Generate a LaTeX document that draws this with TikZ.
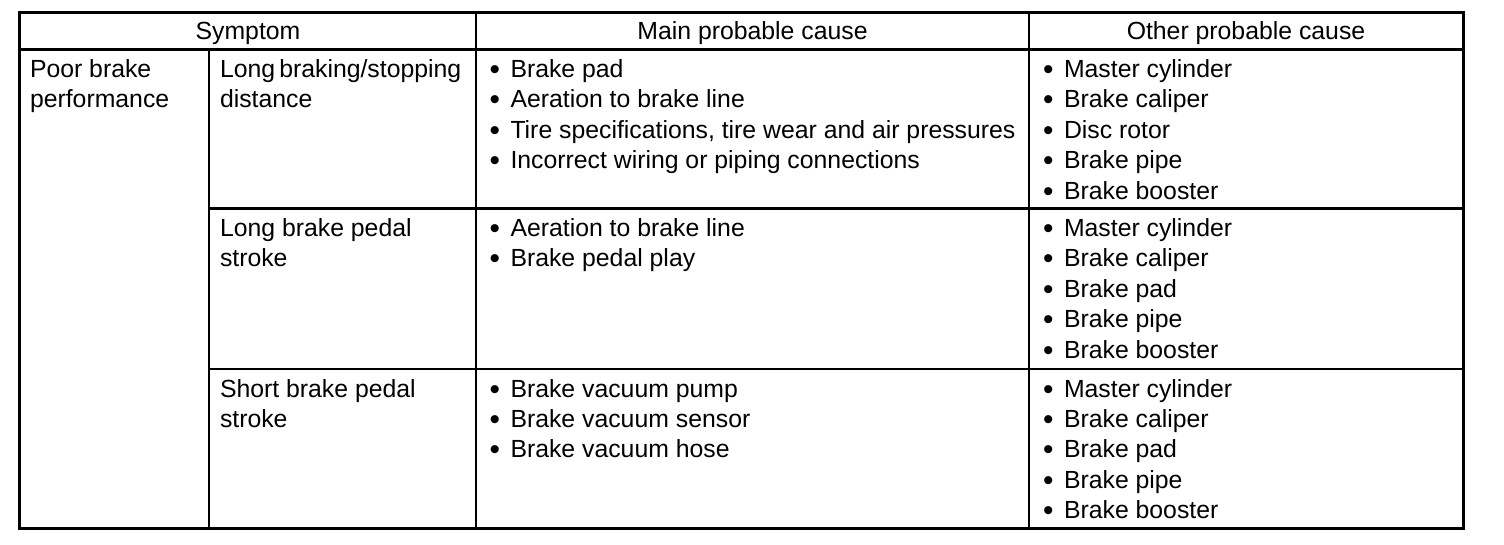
\documentclass[tikz,border=0pt]{standalone}
\usepackage{fontspec}
\usepackage{graphicx}
\setmainfont{Liberation Sans}
\newcommand\bl{\makebox[21pt][l]{\raisebox{-2pt}{\scalebox{1.2}{•}}}}
\newcommand\ls[1]{\begin{tabular}[t]{@{}l@{}}#1\end{tabular}}
\tikzset{
  grid/.style={line width=2.2pt, line cap=rect},
  cell/.style={inner sep=0pt, outer sep=0pt, anchor=base west, font=\fontsize{24.8}{30.4}\selectfont},
  head/.style={cell, anchor=base}
}
\begin{document}
\begin{tikzpicture}[x=1pt,y=-1pt]
\useasboundingbox (0,0) rectangle (1504,544);
% table frame
\coordinate (tl) at (19.5,12.5);
\coordinate (br) at (1463.5,528.5);
\draw[grid] (tl) rectangle (br);
\draw[grid] (19.5,49.5) -- (1463.5,49.5);
\draw[grid] (209,49.5) -- (209,528.5);
\draw[grid] (476,12.5) -- (476,528.5);
\draw[grid] (1029,12.5) -- (1029,528.5);
\draw[grid] (209,208.5) -- (1463.5,208.5);
\draw[grid] (209,369) -- (1463.5,369);
% header
\node[head] (hsym) at (248,39.5) {Symptom};
\node[head] (hmain) at (752.5,39.5) {Main probable cause};
\node[head] (hother) at (1246,39.5) {Other probable cause};
% first column
\node[cell] (poor) at (30,77.5) {\ls{Poor brake\\performance}};
% row 1
\node[cell] (s1) at (220,77.5) {\ls{Long\,braking/stopping\\distance}};
\node[cell] (m1) at (489.5,77.5) {\ls{\bl Brake pad\\\bl Aeration to brake line\\\bl Tire specifications, tire wear and air pressures\\\bl Incorrect wiring or piping connections}};
\node[cell] (o1) at (1043,77.5) {\ls{\bl Master cylinder\\\bl Brake caliper\\\bl Disc rotor\\\bl Brake pipe\\\bl Brake booster}};
% row 2
\node[cell] (s2) at (220,236.5) {\ls{Long brake pedal\\stroke}};
\node[cell] (m2) at (489.5,236.5) {\ls{\bl Aeration to brake line\\\bl Brake pedal play}};
\node[cell] (o2) at (1043,236.5) {\ls{\bl Master cylinder\\\bl Brake caliper\\\bl Brake pad\\\bl Brake pipe\\\bl Brake booster}};
% row 3
\node[cell] (s3) at (220,397) {\ls{Short brake pedal\\stroke}};
\node[cell] (m3) at (489.5,397) {\ls{\bl Brake vacuum pump\\\bl Brake vacuum sensor\\\bl Brake vacuum hose}};
\node[cell] (o3) at (1043,397) {\ls{\bl Master cylinder\\\bl Brake caliper\\\bl Brake pad\\\bl Brake pipe\\\bl Brake booster}};
\end{tikzpicture}
\end{document}
